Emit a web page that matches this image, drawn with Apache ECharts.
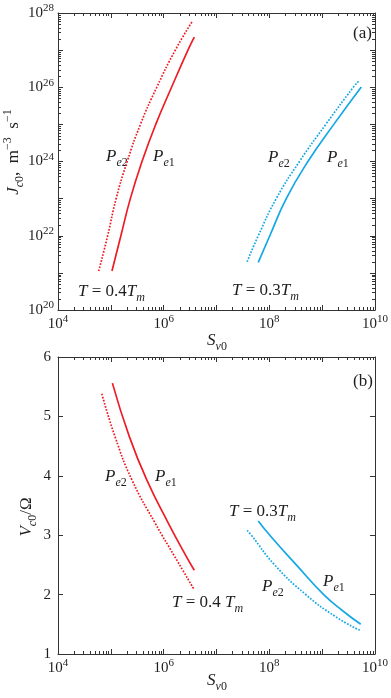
<!DOCTYPE html>
<html>
<head>
<meta charset="utf-8">
<script src="https://cdn.jsdelivr.net/npm/echarts@6/dist/echarts.min.js"></script>
<style>
  html, body { margin: 0; padding: 0; background: #fff; }
  #main { width: 391px; height: 698px; }
</style>
</head>
<body>
<div id="main"></div>
<script>
// panel (a): J_c0 against S_v0
const aRedSolidX  = [1.05e5, 1.55e5, 2.34e5, 3.89e5, 7.08e5, 1.41e6, 2.88e6, 3.80e6];
const aRedSolidY  = [1.12e21, 1e22, 1e23, 1e24, 1e25, 1e26, 1e27, 2.24e27];
const aRedDotX    = [5.89e4, 8.71e4, 1.26e5, 2.04e5, 3.63e5, 7.41e5, 1.66e6, 3.47e6];
const aRedDotY    = [1.12e21, 1e22, 1e23, 1e24, 1e25, 1e26, 1e27, 5.89e27];
const aBlueSolidX = [6.17e7, 1.02e8, 2.09e8, 5.37e8, 1.66e9, 5.50e9];
const aBlueSolidY = [1.91e21, 1e22, 1e23, 1e24, 1e25, 1.02e26];
const aBlueDotX   = [3.80e7, 6.17e7, 1.35e8, 3.72e8, 1.17e9, 3.89e9, 5.01e9];
const aBlueDotY   = [2.0e21, 1e22, 1e23, 1e24, 1e25, 1e26, 1.51e26];

// panel (b): V_c0/Omega against S_v0
const bRedSolidX  = [1.07e5, 2.24e5, 4.79e5, 1.23e6, 2.69e6, 3.80e6];
const bRedSolidY  = [5.56, 4.66, 3.93, 3.2, 2.64, 2.41];
const bRedDotX    = [6.76e4, 1.20e5, 2.51e5, 6.92e5, 1.62e6, 3.80e6];
const bRedDotY    = [5.38, 4.66, 3.93, 3.2, 2.64, 2.08];
const bBlueSolidX = [6.17e7, 1.02e8, 3.24e8, 1.07e9, 2.51e9, 5.37e9];
const bBlueSolidY = [3.24, 3.0, 2.5, 2.0, 1.72, 1.50];
const bBlueDotX   = [3.80e7, 4.57e7, 1.26e8, 4.90e8, 1.78e9, 5.13e9];
const bBlueDotY   = [3.08, 3.0, 2.5, 2.0, 1.63, 1.40];

const xDecades = [4, 10];     // S_v0 = 10^4 .. 10^10
const aDecades = [20, 28];    // J_c0 = 10^20 .. 10^28
const bRange = [1, 6];

const RED = '#ee1d25';
const BLUE = '#14a8e4';
const AX = '#333';
const INK = '#1e1e1e';
const SERIF = '"Liberation Serif", "DejaVu Serif", serif';

const pts = (xs, ys) => xs.map((x, i) => [x, ys[i]]);

// minor ticks at 2..9 inside each decade
function minorLog(lo, hi) {
  const out = [];
  for (let e = lo; e < hi; e++) {
    for (let k = 2; k <= 9; k++) out.push(k * Math.pow(10, e));
  }
  return out;
}

const tickRich = {
  b: { fontSize: 15, fontFamily: SERIF, color: INK, lineHeight: 20 },
  sup: { fontSize: 11, fontFamily: SERIF, color: INK, lineHeight: 11, verticalAlign: 'top' }
};
function powLabel(v) {
  const e = Math.round(Math.log10(v));
  if (e % 2 !== 0) return '';
  return '{b|10}{sup|' + e + '}';
}

function frameTick() {
  return { show: true, inside: true, length: 5, lineStyle: { color: AX, width: 1 } };
}

function logXAxis(gridIndex, position, labels) {
  return {
    type: 'log', logBase: 10, gridIndex, position,
    min: Math.pow(10, xDecades[0]), max: Math.pow(10, xDecades[1]), splitNumber: 6,
    axisLine: { show: true, onZero: false, lineStyle: { color: AX, width: 1 } },
    axisTick: frameTick(),
    splitLine: { show: false },
    axisLabel: labels
      ? { show: true, margin: 4, formatter: powLabel, rich: tickRich }
      : { show: false }
  };
}

function line(xs, ys, color, dotted, ax) {
  return {
    type: 'line', xAxisIndex: ax, yAxisIndex: ax,
    data: pts(xs, ys), showSymbol: false, smooth: 0.5, silent: true,
    lineStyle: { color, width: 1.7, type: dotted ? [1.7, 1.5] : 'solid' }
  };
}

const textRich = {
  i: { fontStyle: 'italic', fontSize: 17, fontFamily: SERIF, lineHeight: 24 },
  n: { fontSize: 17, fontFamily: SERIF, lineHeight: 24 },
  si: { fontStyle: 'italic', fontSize: 12, fontFamily: SERIF, lineHeight: 12, verticalAlign: 'bottom' },
  s: { fontSize: 12, fontFamily: SERIF, lineHeight: 12, verticalAlign: 'bottom' },
  sup: { fontSize: 12, fontFamily: SERIF, lineHeight: 12, verticalAlign: 'top' }
};
function txt(x, y, text, align, rotation) {
  return {
    type: 'text', x, y, rotation: rotation || 0, silent: true,
    style: { text, rich: textRich, fill: INK, align: align || 'left', verticalAlign: 'middle', font: '17px ' + SERIF }
  };
}
const PE1 = '{i|P}{si|e}{s|1}';
const PE2 = '{i|P}{si|e}{s|2}';

const labels = [
  // panel (a)
  txt(353, 34, '{n|(a)}'),
  txt(106, 157, PE2), txt(153, 157, PE1),
  txt(268, 158, PE2), txt(327, 158, PE1),
  txt(78, 292, '{i|T}{n| = 0.4}{i|T}{si|m}'),
  txt(232, 291, '{i|T}{n| = 0.3}{i|T}{si|m}'),
  txt(217, 341, '{i|S}{si|v}{s|0}', 'center'),
  txt(14, 152, '{i|J}{si|c}{s|0}{n|,  m}{sup|−3}{n|  s}{sup|−1}', 'center', Math.PI / 2),
  // panel (b)
  txt(353, 382, '{n|(b)}'),
  txt(105, 477, PE2), txt(155, 477, PE1),
  txt(262, 587, PE2), txt(323, 582, PE1),
  txt(172, 603, '{i|T}{n| = 0.4 }{i|T}{si|m}'),
  txt(229, 512, '{i|T}{n| = 0.3}{i|T}{si|m}'),
  txt(217, 681, '{i|S}{si|v}{s|0}', 'center'),
  txt(27, 517, '{i|V}{si|c}{s|0}{n|/Ω}', 'center', Math.PI / 2)
];

const chart = echarts.init(document.getElementById('main'), null, { renderer: 'canvas' });

const option = {
  animation: false,
  backgroundColor: '#fff',
  grid: [
    { left: 58, top: 13, width: 322, height: 297 },
    { left: 58, top: 357, width: 322, height: 297 }
  ],
  xAxis: [
    logXAxis(0, 'bottom', true), logXAxis(0, 'top', false),
    logXAxis(1, 'bottom', true), logXAxis(1, 'top', false)
  ],
  yAxis: [
    {
      type: 'log', logBase: 10, gridIndex: 0, position: 'left',
      min: Math.pow(10, aDecades[0]), max: Math.pow(10, aDecades[1]), splitNumber: 8,
      axisLine: { show: true, onZero: false, lineStyle: { color: AX } },
      axisTick: frameTick(), splitLine: { show: false },
      axisLabel: { margin: 4, formatter: powLabel, rich: tickRich }
    },
    {
      type: 'log', logBase: 10, gridIndex: 0, position: 'right',
      min: Math.pow(10, aDecades[0]), max: Math.pow(10, aDecades[1]), splitNumber: 8,
      axisLine: { show: true, onZero: false, lineStyle: { color: AX } },
      axisTick: frameTick(), splitLine: { show: false }, axisLabel: { show: false }
    },
    {
      type: 'value', gridIndex: 1, position: 'left', min: bRange[0], max: bRange[1], interval: 1,
      axisLine: { show: true, onZero: false, lineStyle: { color: AX } },
      axisTick: frameTick(), splitLine: { show: false },
      axisLabel: { margin: 7, color: INK, fontSize: 15, fontFamily: SERIF }
    },
    {
      type: 'value', gridIndex: 1, position: 'right', min: bRange[0], max: bRange[1], interval: 1,
      axisLine: { show: true, onZero: false, lineStyle: { color: AX } },
      axisTick: frameTick(), splitLine: { show: false }, axisLabel: { show: false }
    }
  ],
  series: [
    line(aRedDotX, aRedDotY, RED, true, 0),
    line(aRedSolidX, aRedSolidY, RED, false, 0),
    line(aBlueDotX, aBlueDotY, BLUE, true, 0),
    line(aBlueSolidX, aBlueSolidY, BLUE, false, 0),
    line(bRedDotX, bRedDotY, RED, true, 2),
    line(bRedSolidX, bRedSolidY, RED, false, 2),
    line(bBlueDotX, bBlueDotY, BLUE, true, 2),
    line(bBlueSolidX, bBlueSolidY, BLUE, false, 2)
  ],
  graphic: labels
};

chart.setOption(option);

// minor log ticks on the frame, placed through the axes' own scales
function tickLine(x1, y1, x2, y2) {
  return { type: 'line', silent: true, z: 10, shape: { x1, y1, x2, y2 }, style: { stroke: AX, lineWidth: 1 } };
}
const ticks = [];
const xLo = Math.pow(10, xDecades[0]), xHi = Math.pow(10, xDecades[1]);
[
  { grid: 0, yLo: Math.pow(10, aDecades[0]), yHi: Math.pow(10, aDecades[1]), yMinor: minorLog(aDecades[0], aDecades[1]) },
  { grid: 1, yLo: bRange[0], yHi: bRange[1], yMinor: [] }
].forEach(p => {
  const f = { xAxisIndex: p.grid * 2, yAxisIndex: p.grid * 2 };
  minorLog(xDecades[0], xDecades[1]).forEach(v => {
    const b = chart.convertToPixel(f, [v, p.yLo]);
    const t = chart.convertToPixel(f, [v, p.yHi]);
    const x = Math.round(b[0]) + 0.5;
    ticks.push(tickLine(x, b[1], x, b[1] - 3));
    ticks.push(tickLine(x, t[1], x, t[1] + 3));
  });
  p.yMinor.forEach(v => {
    const l = chart.convertToPixel(f, [xLo, v]);
    const r = chart.convertToPixel(f, [xHi, v]);
    const y = Math.round(l[1]) + 0.5;
    ticks.push(tickLine(l[0], y, l[0] + 3, y));
    ticks.push(tickLine(r[0], y, r[0] - 3, y));
  });
});
chart.setOption({ graphic: labels.concat(ticks) });
</script>
</body>
</html>
